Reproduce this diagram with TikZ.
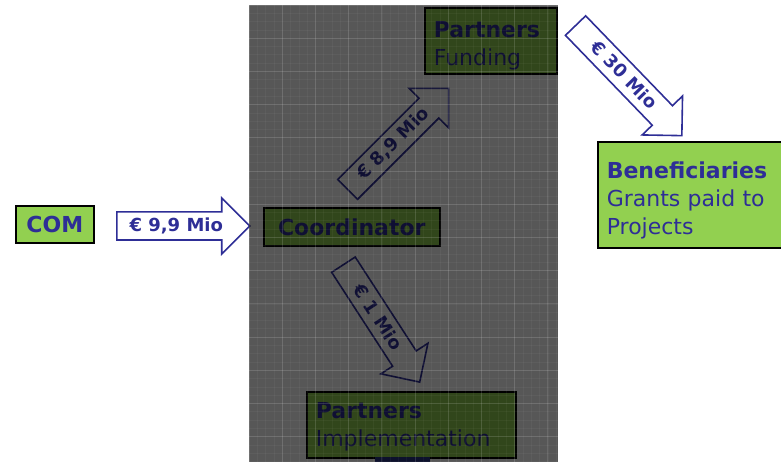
\documentclass[tikz,border=0pt]{standalone}
\usepackage{fontspec}
\setmainfont{DejaVu Sans}
\usetikzlibrary{shapes.arrows}
\definecolor{comgreen}{RGB}{146,208,80}
\definecolor{flowblue}{RGB}{46,46,150}
\definecolor{stripblue}{RGB}{40,50,130}

\begin{document}
\begin{tikzpicture}[x=1pt, y=-1pt,
  box/.style={draw=black, line width=1.6pt, fill=comgreen, inner xsep=9pt, inner ysep=0pt,
    anchor=north west, text=flowblue, font=\fontsize{22}{28}\selectfont, align=left},
  flow/.style={single arrow, draw=flowblue, line width=1.6pt, text=flowblue,
    font=\fontsize{18}{18}\selectfont\bfseries, single arrow head extend=14pt,
    text height=12.5pt, text depth=1pt, inner ysep=6.5pt, inner xsep=4pt, anchor=tail}]
\useasboundingbox (0,0) rectangle (781,462);
\clip (0,0) rectangle (781,462);

% Boxes
\node[box, minimum width=78pt, text height=27pt, text depth=10pt, align=center,
  font=\fontsize{22}{28}\selectfont\bfseries] (com) at (15,205) {COM};
\node[box, minimum width=176pt, text height=28pt, text depth=10pt, align=center,
  font=\fontsize{22}{28}\selectfont\bfseries] (coord) at (263,207) {Coordinator};
\node[box, text width=114pt, text height=30pt, text depth=36pt] (pfund) at (424,7)
  {\textbf{Partners}\\Funding};
\node[box, text width=191pt, text height=27pt, text depth=39pt] (pimpl) at (306,391)
  {\textbf{Partners}\\Implementation};
\node[box, text width=200pt, text height=37pt, text depth=69pt,
  font=\fontsize{22}{28}\selectfont] (benef) at (597,141)
  {\textbf{Beneficiaries}\\Grants paid to\\Projects};

% Money flows
\node[flow, minimum height=133pt] (flowA) at (116,226) {€ 9,9 Mio};
\node[flow, minimum height=143pt, rotate=45] (flowB) at (347,190) {€ 8,9 Mio};
\node[flow, minimum height=140pt, rotate=-57] (flowC) at (343,264) {€ 1 Mio};
\node[flow, minimum height=153pt, rotate=-46] (flowD) at (575,25) {€ 30 Mio};

% Bit of a shape below
\fill[stripblue] (375,457) rectangle (430,470);

% Dark grid over the middle
\fill[black, opacity=0.66] (249,5) rectangle (558,470);
\foreach \i in {0,...,37}
  \draw[white, opacity=0.04, line width=0.6pt] ({249+8.3*\i},5) -- ({249+8.3*\i},462);
\foreach \j in {0,...,55}
  \draw[white, opacity=0.04, line width=0.6pt] (249,{5+8.3*\j}) -- (558,{5+8.3*\j});
\foreach \i in {0,...,9}
  \draw[white, opacity=0.11, line width=0.8pt] ({249+33.2*\i},5) -- ({249+33.2*\i},462);
\foreach \j in {0,...,13}
  \draw[white, opacity=0.11, line width=0.8pt] (249,{5+33.2*\j}) -- (558,{5+33.2*\j});
\end{tikzpicture}
\end{document}
